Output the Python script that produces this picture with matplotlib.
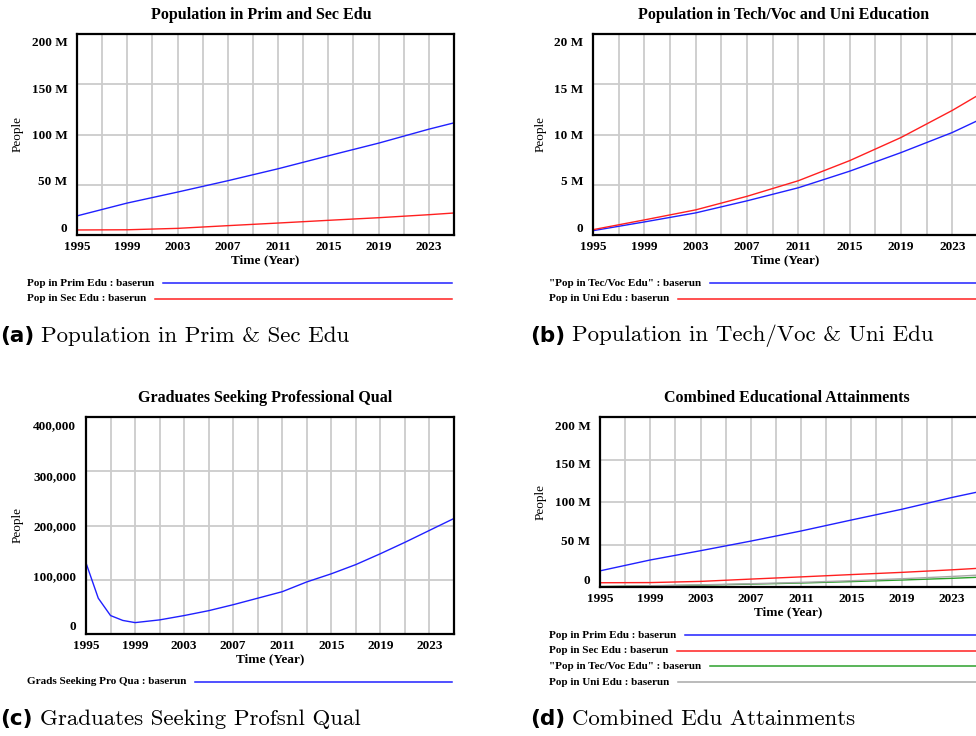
import matplotlib.pyplot as plt
import matplotlib.transforms as mtransforms
from matplotlib.lines import Line2D

# ===========================
# Data
# ===========================

years = [1995, 1999, 2003, 2007, 2011, 2015, 2019, 2023, 2025]
pop_prim = [19.0, 31.8, 42.7, 54.0, 65.9, 78.8, 91.4, 105.3, 111.6]   # M
pop_sec = [5.0, 5.2, 6.6, 9.3, 11.9, 14.6, 17.2, 20.2, 21.9]          # M
pop_tecvoc = [0.43, 1.3, 2.2, 3.4, 4.7, 6.35, 8.2, 10.2, 11.4]       # M
pop_uni = [0.53, 1.5, 2.5, 3.85, 5.4, 7.4, 9.7, 12.4, 13.9]          # M

years_grads = [1995, 1996, 1997, 1998, 1999, 2001, 2003, 2005, 2007, 2009,
               2011, 2013, 2015, 2017, 2019, 2021, 2023, 2025]
grads_pro = [131000, 66000, 34000, 25000, 21000, 26000, 34000, 43000, 54000,
             66000, 78000, 96000, 111000, 128000, 148000, 169000, 191000, 213000]

xtick_years = [1995, 1999, 2003, 2007, 2011, 2015, 2019, 2023]
pop_ticks = [0, 50, 100, 150, 200]
pop_tick_labels = ["0", "50 M", "100 M", "150 M", "200 M"]
tv_ticks = [0, 5, 10, 15, 20]
tv_tick_labels = ["0", "5 M", "10 M", "15 M", "20 M"]
grads_ticks = [0, 100000, 200000, 300000, 400000]
grads_tick_labels = ["0", "100,000", "200,000", "300,000", "400,000"]

BLUE = "#2020ff"
RED = "#ff2020"
GREEN = "#2ca02c"
GRAY = "#a8a8a8"

W, H = 976, 736
fig = plt.figure(figsize=(W / 100, H / 100), dpi=100)

VFONT = "Liberation Serif"


def rect(left, right, top, bottom):
    return [left / W, 1 - bottom / H, (right - left) / W, (bottom - top) / H]


def setup_axes(ax, yticks, ylabels, ymax):
    ax.set_xlim(1995, 2025)
    ax.set_ylim(0, ymax)
    ax.set_xticks(range(1995, 2026, 2), minor=True)
    ax.set_xticks(xtick_years)
    ax.set_xticklabels([str(y) for y in xtick_years])
    ax.set_yticks(yticks)
    ax.set_yticklabels(ylabels)
    ax.grid(True, which="both", axis="x", color="#cccccc", lw=1.3)
    ax.grid(True, which="major", axis="y", color="#cccccc", lw=1.3)
    ax.set_axisbelow(True)
    ax.tick_params(which="both", length=0)
    ax.tick_params(axis="y", pad=7)
    ax.tick_params(axis="x", pad=4)
    for lab in ax.get_xticklabels() + ax.get_yticklabels():
        lab.set_fontfamily(VFONT)
        lab.set_fontweight("bold")
        lab.set_fontsize(9.5)
    # Vensim pulls the outer y labels inward
    for i, lab in enumerate(ax.get_yticklabels()):
        dy = (2 - i) * 4 / 100
        lab.set_transform(lab.get_transform() +
                          mtransforms.ScaledTranslation(0, dy, fig.dpi_scale_trans))
    for sp in ax.spines.values():
        sp.set_linewidth(1.6)
    ax.set_xlabel("Time (Year)", fontfamily=VFONT, fontweight="bold",
                  fontsize=9.5, labelpad=1)


def vtext(x, y, s, **kw):
    return fig.text(x / W, 1 - y / H, s, fontfamily=VFONT, **kw)


renderer = fig.canvas.get_renderer()


def legend_rows(x0, y0, dy, right, entries):
    for i, (label, color) in enumerate(entries):
        y = y0 + i * dy
        t = vtext(x0, y, label, fontweight="bold", fontsize=8,
                  ha="left", va="center")
        bb = t.get_window_extent(renderer)
        x_start = bb.x1 + 9
        fig.add_artist(Line2D([x_start / W, right / W],
                              [1 - y / H, 1 - y / H],
                              color=color, lw=1.1))


def caption(x, y, tag, text):
    t = fig.text(x / W, 1 - y / H, tag, fontfamily="DejaVu Sans",
                 fontweight="bold", fontsize=15.5, ha="left", va="center")
    bb = t.get_window_extent(renderer)
    fig.text((bb.x1 + 7) / W, 1 - y / H, text, fontfamily="cmr10",
             fontsize=16.5, ha="left", va="center")


# ===========================
# (a) Prim & Sec
# ===========================
ax = fig.add_axes(rect(77, 454, 34, 235))
ax.plot(years, pop_prim, color=BLUE, lw=1)
ax.plot(years, pop_sec, color=RED, lw=1)
setup_axes(ax, pop_ticks, pop_tick_labels, 200)
vtext(261, 15, "Population in Prim and Sec Edu", fontweight="bold",
      fontsize=11.5, ha="center", va="center")
vtext(18, 134, "People", fontsize=9.5, rotation=90, ha="center", va="center")
legend_rows(27, 283, 15.5, 452, [("Pop in Prim Edu : baserun", BLUE),
                                 ("Pop in Sec Edu : baserun", RED)])

# ===========================
# (b) Tech/Voc & Uni
# ===========================
ax = fig.add_axes(rect(593, 978, 34, 235))
ax.plot(years, pop_tecvoc, color=BLUE, lw=1)
ax.plot(years, pop_uni, color=RED, lw=1)
setup_axes(ax, tv_ticks, tv_tick_labels, 20)
vtext(784, 15, "Population in Tech/Voc and Uni Education", fontweight="bold",
      fontsize=11.5, ha="center", va="center")
vtext(541, 134, "People", fontsize=9.5, rotation=90, ha="center", va="center")
legend_rows(549, 283, 15.5, 980, [("\"Pop in Tec/Voc Edu\" : baserun", BLUE),
                                  ("Pop in Uni Edu : baserun", RED)])

# ===========================
# (c) Graduates seeking professional qualification
# ===========================
ax = fig.add_axes(rect(86, 454, 417, 634))
ax.plot(years_grads, grads_pro, color=BLUE, lw=1)
setup_axes(ax, grads_ticks, grads_tick_labels, 400000)
vtext(265, 398, "Graduates Seeking Professional Qual", fontweight="bold",
      fontsize=11.5, ha="center", va="center")
vtext(18, 525, "People", fontsize=9.5, rotation=90, ha="center", va="center")
legend_rows(27, 682, 15.5, 452, [("Grads Seeking Pro Qua : baserun", BLUE)])

# ===========================
# (d) Combined
# ===========================
ax = fig.add_axes(rect(600, 977, 417, 587))
ax.plot(years, pop_prim, color=BLUE, lw=1)
ax.plot(years, pop_sec, color=RED, lw=1)
ax.plot(years, pop_tecvoc, color=GREEN, lw=1)
ax.plot(years, pop_uni, color=GRAY, lw=1)
setup_axes(ax, pop_ticks, pop_tick_labels, 200)
vtext(787, 398, "Combined Educational Attainments", fontweight="bold",
      fontsize=11.5, ha="center", va="center")
vtext(541, 502, "People", fontsize=9.5, rotation=90, ha="center", va="center")
legend_rows(549, 635, 15.7, 980, [("Pop in Prim Edu : baserun", BLUE),
                                  ("Pop in Sec Edu : baserun", RED),
                                  ("\"Pop in Tec/Voc Edu\" : baserun", GREEN),
                                  ("Pop in Uni Edu : baserun", GRAY)])

# ===========================
# Sub-captions
# ===========================
caption(0, 336, "(a)", "Population in Prim & Sec Edu")
caption(530, 336, "(b)", "Population in Tech/Voc & Uni Edu")
caption(0, 719, "(c)", "Graduates Seeking Profsnl Qual")
caption(530, 719, "(d)", "Combined Edu Attainments")

fig.savefig("out.png", dpi=100)
plt.close(fig)
